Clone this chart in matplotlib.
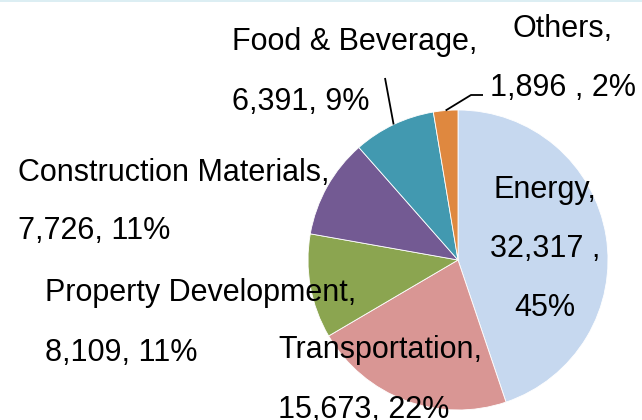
import matplotlib
matplotlib.use("Agg")
import matplotlib.pyplot as plt
import numpy as np

categories = ["Energy", "Transportation", "Property Development",
              "Construction Materials", "Food & Beverage", "Others"]
values = [32317, 15673, 8109, 7726, 6391, 1896]
label_lines = [
    ["Energy,", "32,317 ,", "45%"],
    ["Transportation,", "15,673, 22%"],
    ["Property Development,", "8,109, 11%"],
    ["Construction Materials,", "7,726, 11%"],
    ["Food & Beverage,", "6,391, 9%"],
    ["Others,", "1,896 , 2%"],
]
colors = ["#C6D8EF", "#D99694", "#8BA550", "#735A93", "#4299B0", "#DF883F"]

W, H = 642, 420
fig = plt.figure(figsize=(W / 100, H / 100), dpi=100)
ax = fig.add_axes([0, 0, 1, 1])
ax.set_xlim(0, W)
ax.set_ylim(0, H)
ax.axis("off")

cx, cy, r = 458, H - 260, 150
wedges, _ = ax.pie(values, colors=colors, startangle=90, counterclock=False,
                   center=(cx, cy), radius=r, frame=True,
                   wedgeprops=dict(edgecolor="white", linewidth=0.6))
ax.set_xlim(0, W)
ax.set_ylim(0, H)
ax.set_aspect("equal")
ax.axis("off")

fs = 22
font = "Liberation Sans"
# label placement: (x, first baseline y in image px, ha)
placement = {
    0: (545, 198, "center"),
    1: (278, 358, "left"),
    2: (45, 301, "left"),
    3: (18, 181, "left"),
    4: (232, 50, "left"),
    5: (563, 37, "center"),
}
spacing = [59, 60, 60, 58, 60, 59]
for i, lines in enumerate(label_lines):
    x, y0, ha = placement[i]
    for j, t in enumerate(lines):
        ax.text(x, H - (y0 + j * spacing[i]), t, fontsize=fs, family=font,
                ha=ha, va="baseline", color="black")

# leader lines from wedge midpoints on rim
total = sum(values)
cum = np.cumsum([0] + values)
def rim_point(i):
    frac = (cum[i] + cum[i + 1]) / 2 / total
    ang = np.deg2rad(90 - 360 * frac)
    return cx + r * np.cos(ang), cy + r * np.sin(ang)

fx, fy = rim_point(4)
ax.plot([fx, 385], [fy, H - 78], color="black", lw=1.3, solid_capstyle="butt")
ox, oy = rim_point(5)
ax.plot([ox, 471, 483], [oy, H - 95, H - 95], color="black", lw=1.3,
        solid_capstyle="butt")

# thin top border
ax.add_patch(plt.Rectangle((0, H - 2), W, 2, color="#DCEEF3", lw=0, clip_on=False))

fig.savefig("out.png", dpi=100)
